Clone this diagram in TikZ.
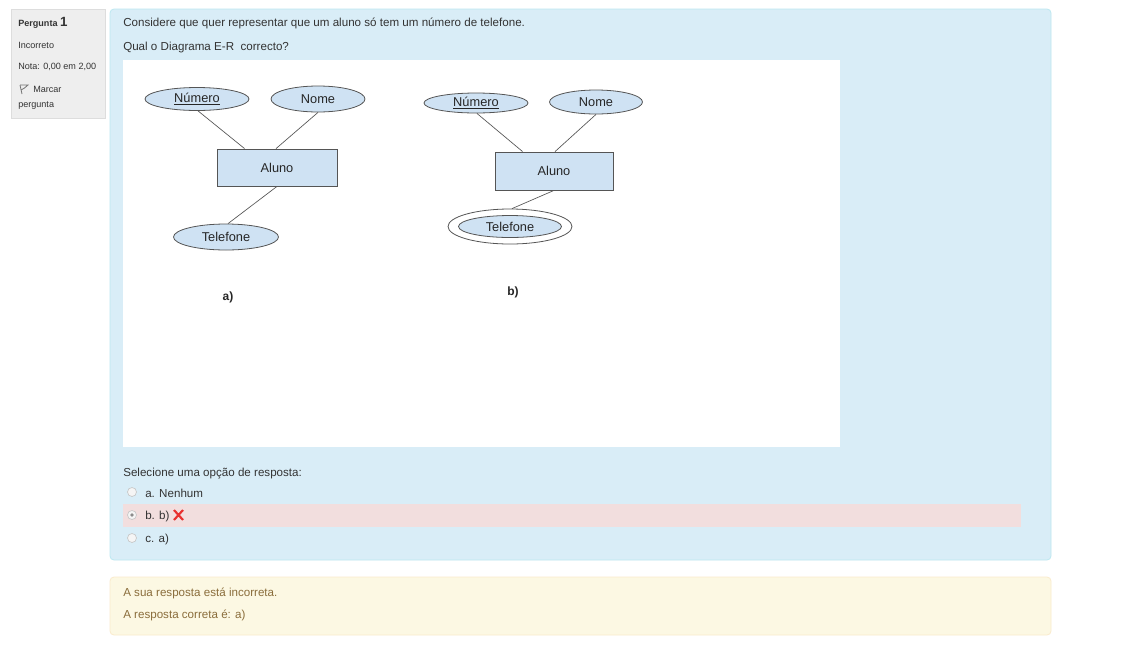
\documentclass[tikz,border=0pt]{standalone}
\usepackage{fontspec}
\setmainfont{Liberation Sans}
\usetikzlibrary{shapes.geometric,calc}
\definecolor{infobg}{HTML}{D9EDF7}
\definecolor{infoborder}{HTML}{BCE8F1}
\definecolor{sidebg}{HTML}{EEEEEE}
\definecolor{sideborder}{HTML}{DDDDDD}
\definecolor{warnbg}{HTML}{FCF8E3}
\definecolor{warnborder}{HTML}{FAEBCC}
\definecolor{warntext}{HTML}{8A6D3B}
\definecolor{wrongbg}{HTML}{F2DEDE}
\definecolor{erfill}{HTML}{CFE2F3}
\definecolor{erline}{HTML}{555555}
\definecolor{txt}{HTML}{333333}
\definecolor{crossred}{HTML}{E8312F}
\tikzset{
  label/.style={anchor=west,inner sep=0pt,yshift=-1.2pt,text=txt,font=\fontsize{8.7pt}{10pt}\selectfont},
  sidelabel/.style={anchor=west,inner sep=0pt,yshift=-0.8pt,text=txt,font=\fontsize{6.8pt}{8pt}\selectfont},
  attr/.style={ellipse,draw=erline,fill=erfill,line width=0.6pt,inner sep=0pt,
    font=\fontsize{9.6pt}{10pt}\selectfont,text=black!85},
  entity/.style={rectangle,draw=erline,fill=erfill,line width=0.6pt,inner sep=0pt,
    minimum width=90pt,minimum height=27.75pt,font=\fontsize{9.6pt}{10pt}\selectfont,text=black!85},
  link/.style={draw=erline,line width=0.5pt},
  radio/.style={circle,draw=black!22,fill=black!4,minimum size=6.75pt,inner sep=0pt,line width=0.5pt},
  caption/.style={font=\bfseries\fontsize{9pt}{10pt}\selectfont,text=black!85,inner sep=0pt}
}
\newcommand{\ulword}[1]{\underline{#1}}
\begin{document}
\begin{tikzpicture}[x=0.75pt,y=-0.75pt]
\useasboundingbox (0,0) rectangle (1121,647);
\fill[white] (0,0) rectangle (1121,647);

% side info box
\draw[fill=sidebg,draw=sideborder,line width=0.5pt] (11,9) rectangle (105,118);
\node[sidelabel] (perg) at (18,22) {\bfseries Pergunta \fontsize{10pt}{10pt}\selectfont 1};
\node[sidelabel] (estado) at (18,44) {Incorreto};
\node[sidelabel] (nota) at (18,66) {Nota: 0,00 em 2,00};
\node[sidelabel] (marcar) at (33,88) {Marcar};
\node[sidelabel] (perg2) at (18,104) {pergunta};
% flag icon
\draw[black!55,line width=0.6pt] (20,85) -- (22,94);
\draw[black!55,line width=0.6pt] (20,85) -- (28,85) -- (24.5,88) -- (21,90);

% question panel
\draw[fill=infobg,draw=infoborder,line width=0.6pt,rounded corners=3] (110,9) rectangle (1051,560);
\node[label] (q1) at (123,22) {Considere que quer representar que um aluno só tem um número de telefone.};
\node[label] (q2) at (123,46) {Qual o Diagrama E-R\ \ correcto?};

% white picture area
\fill[white] (123,60) rectangle (840,447);

% diagram a)
\node[attr,minimum width=78pt,minimum height=17.25pt] (numA) at (197,99) {\ulword{Número}};
\node[attr,minimum width=70.5pt,minimum height=19.5pt] (nomeA) at (318,99) {Nome};
\node[entity] (alunoA) at (277,167.5) {Aluno};
\node[attr,minimum width=78.75pt,minimum height=19.5pt] (telA) at (226,237) {Telefone};
\draw[link] (numA.-85) -- ([xshift=21pt]alunoA.north west);
\draw[link] (nomeA.south) -- ([xshift=-0.75pt]alunoA.north);
\draw[link] (alunoA.south) -- ([xshift=1.5pt]telA.north);
\node[caption] (capA) at (228,297) {a)};

% diagram b)
\node[attr,minimum width=78pt,minimum height=15pt] (numB) at (476,103) {\ulword{Número}};
\node[attr,minimum width=69.75pt,minimum height=18pt] (nomeB) at (596,102) {Nome};
\node[entity,minimum width=88.5pt,minimum height=28.5pt] (alunoB) at (554,171) {Aluno};
\node[ellipse,draw=erline,line width=0.6pt,minimum width=93pt,minimum height=26.25pt,inner sep=0pt] (telBout) at (510,226.5) {};
\node[attr,minimum width=77.25pt,minimum height=16.5pt] (telB) at (510,226.5) {Telefone};
\draw[link] (numB.-85) -- ([xshift=21pt]alunoB.north west);
\draw[link] (nomeB.south) -- ([xshift=0.75pt]alunoB.north);
\draw[link] (alunoB.south) -- ([xshift=1.5pt]telBout.north);
\node[caption] (capB) at (513,292) {b)};

% answer options
\node[label] (sel) at (123,472) {Selecione uma opção de resposta:};
\fill[wrongbg] (123,504) rectangle (1021,527);
\node[radio] (ra) at (132,492) {};
\node[label] (oa) at (145,492) {a. Nenhum};
\node[radio] (rb) at (132,515) {};
\fill[black!45] (rb.center) circle (1.8);
\node[label] (ob) at (145,515) {b. b)};
\draw[crossred,line width=1.6pt] (174,510) -- (183,520) (183,510) -- (174,520);
\node[radio] (rc) at (132,538) {};
\node[label] (oc) at (145,538) {c. a)};

% feedback panel
\draw[fill=warnbg,draw=warnborder,line width=0.6pt,rounded corners=3] (110,577) rectangle (1051,635);
\node[label,text=warntext] (f1) at (123,592) {A sua resposta está incorreta.};
\node[label,text=warntext] (f2) at (123,614) {A resposta correta é: a)};
\end{tikzpicture}
\end{document}
